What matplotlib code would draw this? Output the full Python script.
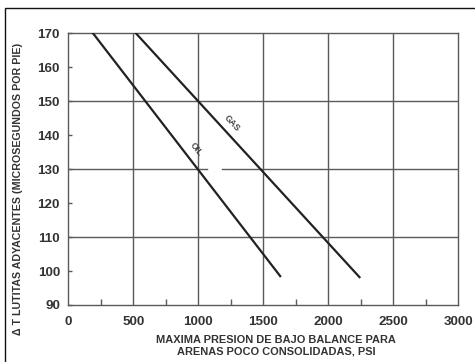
import matplotlib
matplotlib.use("Agg")
import matplotlib.pyplot as plt
from matplotlib.patches import Rectangle

plt.rcParams['font.family'] = ['Liberation Sans', 'DejaVu Sans']

# curve end points (psi, delta t)
oil_x = [190, 1630]
oil_y = [170, 98.5]
gas_x = [520, 2240]
gas_y = [170, 98.2]

x_ticks = [0, 500, 1000, 1500, 2000, 2500, 3000]
x_minor = [250, 750, 1250, 1750, 2250, 2750]
y_ticks = [90, 100, 110, 120, 130, 140, 150, 160, 170]
x_grid = [500, 1000, 1500, 2000, 2500]
y_grid = [110, 150]
gap_130 = (1064, 1180)

ink = '#222222'
grid = '#5a5a5a'

fig = plt.figure(figsize=(4.75, 3.62), dpi=100)
ax = fig.add_axes([0.1438, 0.1575, 0.821, 0.7506])
ax.set_xlim(0, 3000)
ax.set_ylim(90, 170)

for x in x_grid:
    ax.axvline(x, color=grid, lw=1.0, zorder=1)
for y in y_grid:
    ax.axhline(y, color=grid, lw=1.0, zorder=1)
# 130 line is broken around the OIL label
ax.plot([0, gap_130[0]], [130, 130], color=grid, lw=1.0, zorder=1)
ax.plot([gap_130[1], 3000], [130, 130], color=grid, lw=1.0, zorder=1)

ax.plot(oil_x, oil_y, color=ink, lw=1.6, zorder=3)
ax.plot(gas_x, gas_y, color=ink, lw=1.6, zorder=3)

ax.text(985, 136, 'OIL', rotation=-52, fontsize=6.3, fontweight='bold',
        color='#444444', ha='center', va='center')
ax.text(1255, 143.6, 'GAS', rotation=-47, fontsize=6.3, fontweight='bold',
        color='#444444', ha='center', va='center')

for s in ax.spines.values():
    s.set_color(grid)
    s.set_linewidth(1.0)

ax.set_xticks(x_ticks)
ax.set_xticks(x_minor, minor=True)
ax.set_yticks(y_ticks)
ax.tick_params(axis='x', which='major', length=0, pad=8)
ax.tick_params(axis='x', which='minor', direction='in', length=4, width=1, color=grid)
ax.tick_params(axis='y', direction='in', length=3, width=1, color=grid, pad=6)
for lab in ax.get_xticklabels() + ax.get_yticklabels():
    lab.set_fontsize(9.6)
    lab.set_fontweight('bold')
    lab.set_color('#333333')

fig.text(0.038, 0.477, u'\u0394 T LUTITAS ADYACENTES (MICROSEGUNDOS POR PIE)',
         rotation=90, fontsize=7.65, fontweight='bold', color='#333333',
         ha='center', va='center')
fig.text(276 / 475, 0.044, 'MAXIMA PRESION DE BAJO BALANCE PARA\nARENAS POCO CONSOLIDADAS, PSI',
         fontsize=7.9, fontweight='bold', color='#333333', ha='center', va='center',
         linespacing=1.15)

# outer frame
fig.patches.append(Rectangle((5.3 / 475, -0.1), 1.2, 1.1 - 7.5 / 362,
                             transform=fig.transFigure, fill=False,
                             edgecolor='#111111', lw=1.0))

fig.savefig('out.png', dpi=100)
